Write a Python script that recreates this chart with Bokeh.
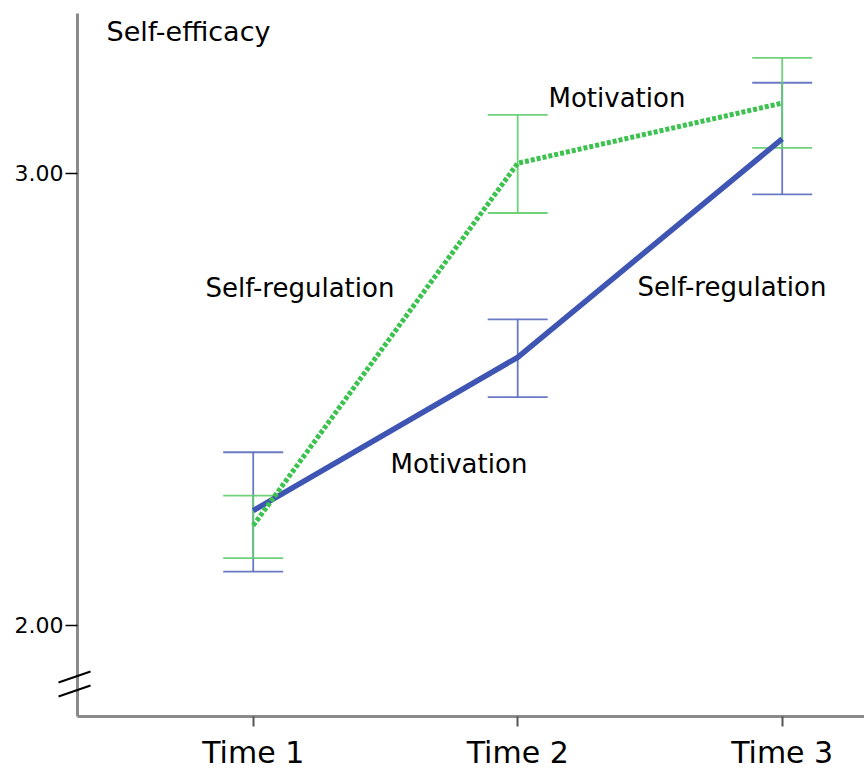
from bokeh.plotting import figure
from bokeh.models import (ColumnDataSource, Whisker, TeeHead, Label,
                          FixedTicker, NumeralTickFormatter, Range1d)
from bokeh.embed import file_html
from bokeh.resources import INLINE

# ---- data ----
categories = ["Time 1", "Time 2", "Time 3"]
self_regulation = [2.254, 2.593, 3.076]
self_regulation_upper = [2.383, 2.677, 3.200]
self_regulation_lower = [2.119, 2.505, 2.953]
motivation = [2.221, 3.022, 3.155]
motivation_upper = [2.287, 3.129, 3.255]
motivation_lower = [2.149, 2.912, 3.056]
y_ticks = [2.0, 3.0]
y_axis_title = "Self-efficacy"

xs = [i + 1 for i in range(len(categories))]

BLUE = "#3f55b3"
BLUE_ERR = "#5a6bbf"
GREEN = "#3cc24e"
GREEN_ERR = "#5fcd6d"
AXIS_GRAY = "#8a8a8a"
FONT = "DejaVu Sans"

p = figure(width=864, height=772, output_backend="svg", toolbar_location=None,
           x_range=Range1d(0.3357, 3.3112), y_range=Range1d(1.7988, 3.3531),
           min_border_left=77, min_border_top=13, min_border_bottom=56,
           min_border_right=0)
p.outline_line_color = None
p.grid.visible = False
p.background_fill_color = "white"
p.border_fill_color = "white"

# y axis
p.yaxis.ticker = FixedTicker(ticks=y_ticks)
p.yaxis.formatter = NumeralTickFormatter(format="0.00")
p.yaxis.axis_line_color = AXIS_GRAY
p.yaxis.axis_line_width = 3
p.yaxis.major_tick_line_color = "black"
p.yaxis.major_tick_line_width = 1.5
p.yaxis.major_tick_out = 12
p.yaxis.major_tick_in = 0
p.yaxis.minor_tick_line_color = None
p.yaxis.major_label_standoff = 2
p.yaxis.major_label_text_font = FONT
p.yaxis.major_label_text_font_size = "22px"
p.yaxis.major_label_text_color = "black"

# x axis
p.xaxis.ticker = FixedTicker(ticks=xs)
p.xaxis.major_label_overrides = {x: c for x, c in zip(xs, categories)}
p.xaxis.axis_line_color = AXIS_GRAY
p.xaxis.axis_line_width = 3
p.xaxis.major_tick_line_color = "#555555"
p.xaxis.major_tick_line_width = 2
p.xaxis.major_tick_out = 10
p.xaxis.major_tick_in = 0
p.xaxis.minor_tick_line_color = None
p.xaxis.major_label_standoff = 8
p.xaxis.major_label_text_font = FONT
p.xaxis.major_label_text_font_size = "30px"
p.xaxis.major_label_text_color = "black"

# error bars
src_sr = ColumnDataSource(dict(x=xs, y=self_regulation,
                               upper=self_regulation_upper, lower=self_regulation_lower))
src_mo = ColumnDataSource(dict(x=xs, y=motivation,
                               upper=motivation_upper, lower=motivation_lower))

for src, col in ((src_sr, BLUE_ERR), (src_mo, GREEN_ERR)):
    w = Whisker(source=src, base="x", upper="upper", lower="lower",
                line_color=col, line_width=1.8, line_alpha=0.9, level="underlay",
                upper_head=TeeHead(size=60, line_color=col, line_width=1.8, line_alpha=0.9),
                lower_head=TeeHead(size=60, line_color=col, line_width=1.8, line_alpha=0.9))
    p.add_layout(w)

# lines
p.line("x", "y", source=src_sr, line_color=BLUE, line_width=5.5)
p.line("x", "y", source=src_mo, line_color=GREEN, line_width=5, line_dash="4 2")

# labels
label_style = dict(text_font=FONT, text_font_size="26px", text_color="black",
                   text_baseline="alphabetic", text_align="left")
p.add_layout(Label(x=0.4454, y=3.3133, text=y_axis_title,
                   text_font=FONT, text_font_size="27px", text_color="black",
                   text_baseline="alphabetic", text_align="left"))
p.add_layout(Label(x=0.8197, y=2.7451, text="Self-regulation", **label_style))
p.add_layout(Label(x=2.1164, y=3.1652, text="Motivation", **label_style))
p.add_layout(Label(x=2.4529, y=2.7495, text="Self-regulation", **label_style))
p.add_layout(Label(x=1.519, y=2.3560, text="Motivation", **label_style))

# axis break marks (two slanted strokes across the y axis)
p.segment(x0=[0.2639, 0.2639], y0=[1.874, 1.843],
          x1=[0.3849, 0.3849], y1=[1.8983, 1.8673],
          line_color="black", line_width=2, level="overlay")

open("out.html", "w").write(file_html(p, INLINE))
